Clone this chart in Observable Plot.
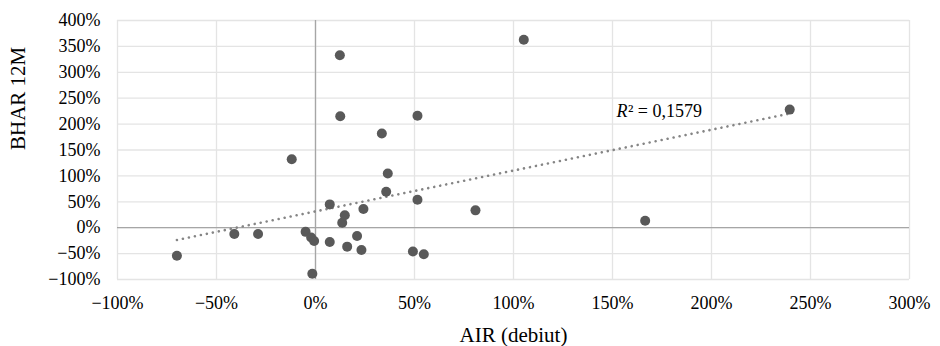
<!DOCTYPE html>
<html>
<head>
<meta charset="utf-8">
<script src="https://cdn.jsdelivr.net/npm/d3@7"></script>
<script src="https://cdn.jsdelivr.net/npm/@observablehq/plot@0.6"></script>
<style>
  html, body { margin: 0; padding: 0; background: #fff; }
  svg text { font-family: "Liberation Serif", "Times New Roman", serif !important; }
</style>
</head>
<body>
<div id="chart"></div>
<script>
// AIR (debiut), % and BHAR 12M, %
const air  = [-70, -41, -29, -12, -5, -2.2, -0.7, -1.6, 7.2, 7.2, 12.3, 12.5, 13.5, 14.8, 16, 21, 23.2, 24.2, 33.5, 35.7, 36.5, 49.2, 51.5, 51.5, 54.7, 80.8, 105.2, 166.5, 239.5];
const bhar = [-54, -12, -12, 132, -8, -19, -25.6, -89, 45, -27.6, 333, 215, 9.6, 24, -36.6, -16, -43, 36, 182, 69.4, 104.5, -46, 216, 54, -51.4, 33.5, 363, 13.5, 228];
const xTicks = [-100, -50, 0, 50, 100, 150, 200, 250, 300];
const yTicks = [-100, -50, 0, 50, 100, 150, 200, 250, 300, 350, 400];
const xTitle = "AIR (debiut)";
const yTitle = "BHAR 12M";
const r2Label = "² = 0,1579";
const r2Pos = {x: 152, y: 225};

const FONT = "Liberation Serif";
const data = air.map((a, i) => ({air: a, bhar: bhar[i]}));
const pct = d => (d < 0 ? "\u2212" : "") + Math.abs(d) + "%";

const chart = Plot.plot({
  width: 940,
  height: 346,
  marginLeft: 117,
  marginRight: 31,
  marginTop: 20,
  marginBottom: 67,
  style: {fontFamily: FONT, fontSize: "18px", color: "#000", background: "#fff"},
  x: {domain: [-100, 300], ticks: xTicks, tickFormat: pct, label: null},
  y: {domain: [-100, 400], ticks: yTicks, tickFormat: pct, label: null},
  marks: [
    Plot.gridX(xTicks, {stroke: "#e4e4e4", strokeOpacity: 1, strokeWidth: 1.3}),
    Plot.gridY(yTicks, {stroke: "#e4e4e4", strokeOpacity: 1, strokeWidth: 1.3}),
    Plot.ruleX([0], {stroke: "#a6a6a6", strokeWidth: 1.3}),
    Plot.ruleY([0], {stroke: "#a6a6a6", strokeWidth: 1.3}),
    Plot.axisX(xTicks, {tickSize: 0, tickPadding: 17, tickFormat: pct, fontSize: 18, fontFamily: FONT, fontVariant: "normal", fill: "#000"}),
    Plot.axisY(yTicks, {tickSize: 0, tickPadding: 17, tickFormat: pct, fontSize: 18, fontFamily: FONT, fontVariant: "normal", fill: "#000"}),
    Plot.linearRegressionY(data, {x: "air", y: "bhar", ci: 0, stroke: "#858585", strokeWidth: 2.6, strokeLinecap: "round", strokeDasharray: "0.01,6.1"}),
    Plot.dot(data, {x: "air", y: "bhar", r: 5, fill: "#595959", stroke: "none"}),
    Plot.text(["R"], {x: () => r2Pos.x, y: () => r2Pos.y, text: d => d, textAnchor: "start", fontStyle: "italic", fontSize: 18, fontFamily: FONT, fill: "#000"}),
    Plot.text([r2Label], {x: () => r2Pos.x, y: () => r2Pos.y, text: d => d, textAnchor: "start", dx: 11.5, fontSize: 18, fontFamily: FONT, fill: "#000"}),
    Plot.text([yTitle], {frameAnchor: "left", dx: -99, rotate: -90, fontSize: 21, fontFamily: FONT, fill: "#000", text: d => d}),
    Plot.text([xTitle], {frameAnchor: "bottom", dy: 62, fontSize: 21, fontFamily: FONT, fill: "#000", text: d => d})
  ]
});
d3.select(chart).selectAll("text").attr("font-family", FONT).style("font-family", FONT);
document.getElementById("chart").appendChild(chart);
</script>
</body>
</html>
